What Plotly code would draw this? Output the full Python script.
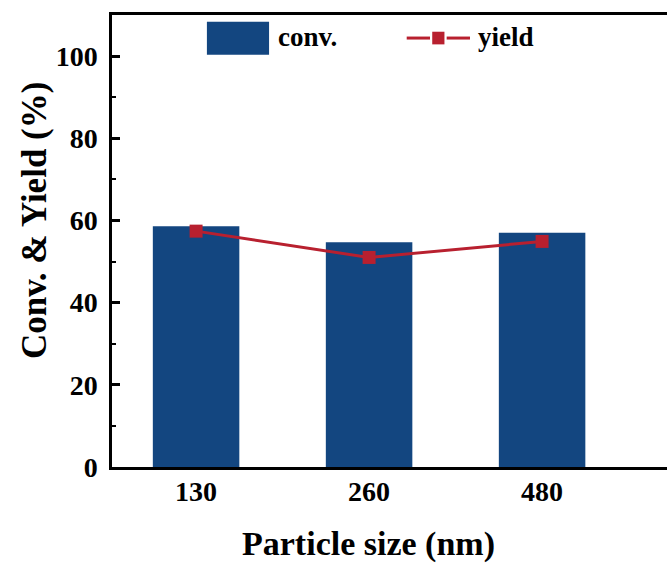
import plotly.graph_objects as go

# Particle sizes (nm) and catalytic results (%)
sizes = ["130", "260", "480"]
conv = [58.6, 54.7, 57.0]
yield_pct = [57.4, 51.0, 54.9]

BLUE = "#134680"
RED = "#b8202f"
FONT = "Liberation Serif, Times New Roman, serif"

fig = go.Figure()
fig.add_trace(go.Bar(
    x=sizes, y=conv, name="conv.", width=0.5,
    marker=dict(color=BLUE, line=dict(width=0)),
    showlegend=False,
))
fig.add_trace(go.Scatter(
    x=sizes, y=yield_pct, name="yield", mode="lines+markers",
    line=dict(color=RED, width=3),
    marker=dict(symbol="square", size=13, color=RED),
    showlegend=False,
))

# Hand-drawn legend along the top of the plot
shapes = [
    dict(type="rect", xref="paper", yref="paper", x0=0.171, x1=0.283, y0=0.912, y1=0.985,
         fillcolor=BLUE, line=dict(width=0)),
    dict(type="line", xref="paper", yref="paper", x0=0.531, x1=0.573, y0=0.949, y1=0.949,
         line=dict(color=RED, width=3)),
    dict(type="line", xref="paper", yref="paper", x0=0.603, x1=0.645, y0=0.949, y1=0.949,
         line=dict(color=RED, width=3)),
    dict(type="rect", xref="paper", yref="paper", x0=0.577, x1=0.599, y0=0.935, y1=0.963,
         fillcolor=RED, line=dict(width=0)),
]
annotations = [
    dict(text="<b>conv.</b>", xref="paper", yref="paper", x=0.295, y=0.952,
         xanchor="left", yanchor="middle", showarrow=False,
         font=dict(family=FONT, size=27, color="black")),
    dict(text="<b>yield</b>", xref="paper", yref="paper", x=0.655, y=0.952,
         xanchor="left", yanchor="middle", showarrow=False,
         font=dict(family=FONT, size=27, color="black")),
    # axis titles
    dict(text="<b>Particle size (nm)</b>", xref="paper", yref="paper",
         x=(368 - 112) / 555, y=-(544 - 467) / 452,
         xanchor="center", yanchor="middle", showarrow=False,
         font=dict(family=FONT, size=34, color="black")),
    dict(text="<b>Conv. & Yield (%)</b>", xref="paper", yref="paper",
         x=-(112 - 34) / 555, y=(467 - 221) / 452, textangle=-90,
         xanchor="center", yanchor="middle", showarrow=False,
         font=dict(family=FONT, size=35, color="black")),
]

fig.update_layout(
    width=667, height=566,
    margin=dict(l=112, r=0, t=15, b=99),
    paper_bgcolor="white", plot_bgcolor="white",
    font=dict(family=FONT, color="black"),
    shapes=shapes, annotations=annotations,
)
fig.update_xaxes(
    type="category", range=[-0.486, 2.722],
    showline=True, linecolor="black", linewidth=2.5, mirror=True,
    ticks="", showgrid=False, zeroline=False,
    tickfont=dict(family=FONT, size=28, color="black"),
    tickprefix="<b>", ticksuffix="</b>",
    ticklabelstandoff=-2,
)
fig.update_yaxes(
    range=[0, 110], dtick=20, tick0=0,
    showline=True, linecolor="black", linewidth=2.5, mirror=False,
    ticks="inside", ticklen=8, tickwidth=2.5, tickcolor="black",
    minor=dict(dtick=10, ticks="inside", ticklen=4, tickwidth=2, tickcolor="black"),
    showgrid=False, zeroline=False,
    tickfont=dict(family=FONT, size=28, color="black"),
    tickprefix="<b>", ticksuffix="</b>",
    ticklabelstandoff=6,
)

fig.write_html("out.html")
